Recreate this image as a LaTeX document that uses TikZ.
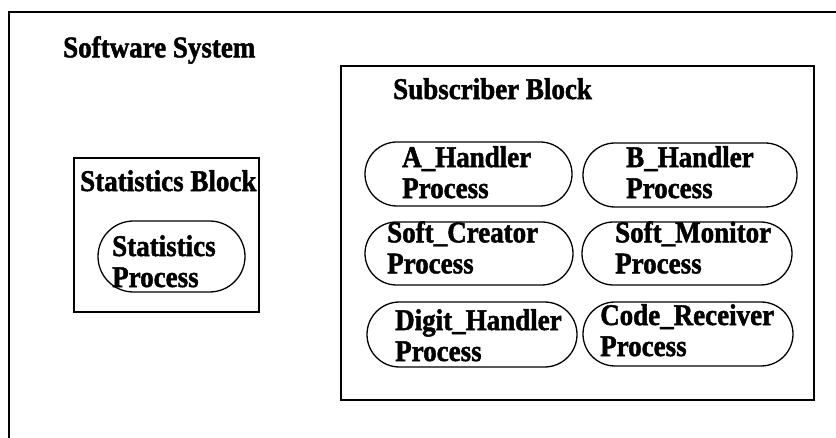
\documentclass[tikz,border=0pt]{standalone}
\usepackage{fontspec}
\setmainfont{Liberation Serif}[BoldFeatures={FakeBold=1.6,FakeStretch=0.9}]
\usetikzlibrary{shapes.misc}
\begin{document}
\begin{tikzpicture}[x=1pt,y=-1pt,
  frame/.style={draw=black,line width=1.5pt},
  block/.style={draw=black,line width=1.5pt,rectangle,inner sep=0pt},
  capsule/.style={draw=black,line width=1.3pt,rounded rectangle,inner sep=0pt},
  lbl/.style={font=\fontsize{30}{31}\selectfont\bfseries,inner sep=0pt,anchor=north west,align=left}]
\useasboundingbox (0,0) rectangle (836,438);
% outer system frame, open to the right and bottom
\coordinate (sysTR) at (840,12);
\coordinate (sysTL) at (9,12);
\coordinate (sysBL) at (9,442);
\draw[frame] (sysTR) -- (sysTL) -- (sysBL);
\node[lbl] (sysT) at (63,36) {Software System};

% blocks
\node[block,minimum width=185pt,minimum height=154pt] (stat) at (166.5,235) {};
\node[lbl] (statT) at (80,170) {Statistics Block};
\node[block,minimum width=473pt,minimum height=334pt] (subs) at (577.5,233) {};
\node[lbl] (subsT) at (393,78) {Subscriber Block};

% processes
\node[capsule,minimum width=147pt,minimum height=71pt] (sp) at (171.5,256.5) {};
\node[lbl] (spT) at (112,235) {Statistics\\Process};

\node[capsule,minimum width=207pt,minimum height=64pt] (ah) at (468.5,174) {};
\node[lbl] (ahT) at (402,146) {A\_Handler\\Process};
\node[capsule,minimum width=214pt,minimum height=64pt] (bh) at (690,175) {};
\node[lbl] (bhT) at (626,146) {B\_Handler\\Process};

\node[capsule,minimum width=208pt,minimum height=63pt] (sc) at (469,253.5) {};
\node[lbl] (scT) at (387,221) {Soft\_Creator\\Process};
\node[capsule,minimum width=210pt,minimum height=63pt] (sm) at (687,253.5) {};
\node[lbl] (smT) at (615,221) {Soft\_Monitor\\Process};

\node[capsule,minimum width=210pt,minimum height=65pt] (dh) at (472,334.5) {};
\node[lbl] (dhT) at (395,309) {Digit\_Handler\\Process};
\node[capsule,minimum width=210pt,minimum height=64pt] (cr) at (688,334) {};
\node[lbl] (crT) at (600,304) {Code\_Receiver\\Process};
\end{tikzpicture}
\end{document}
